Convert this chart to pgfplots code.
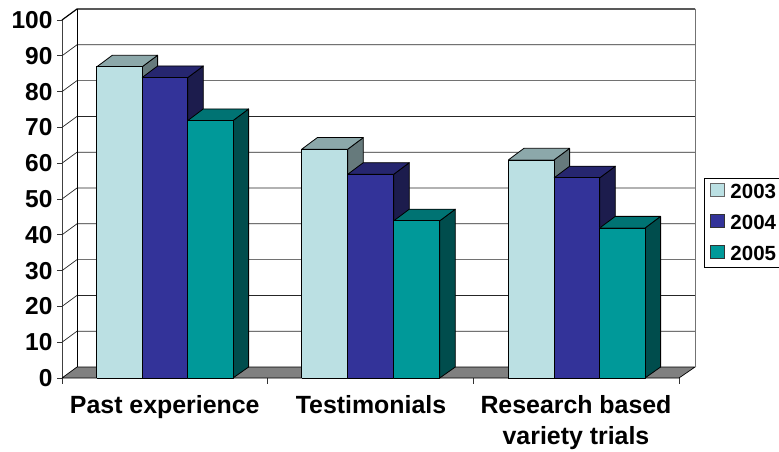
\documentclass[border=0pt]{standalone}
\usepackage{fontspec}
\setmainfont{Liberation Sans}
\usepackage{pgfplots}
\pgfplotsset{compat=1.18}
\definecolor{cA}{HTML}{BBE0E3}\definecolor{cAt}{HTML}{8CA8AA}\definecolor{cAs}{HTML}{667A7C}
\definecolor{cB}{HTML}{333399}\definecolor{cBt}{HTML}{26266F}\definecolor{cBs}{HTML}{1C1C4D}
\definecolor{cC}{HTML}{009999}\definecolor{cCt}{HTML}{007373}\definecolor{cCs}{HTML}{004D4D}
% #1 left x, #2 right x, #3 value, #4 series colour prefix
\newcommand{\dbar}[4]{%
  \pgfmathsetmacro{\xa}{#1}\pgfmathsetmacro{\xb}{#2}%
  \pgfmathsetmacro{\xc}{#2+15.6}\pgfmathsetmacro{\xd}{#1+15.6}%
  \pgfmathsetmacro{\yt}{#3+0.9}\pgfmathsetmacro{\yb}{#3+0.9+3.25}%
  \addplot[forget plot,draw=black,line width=0.8pt,fill=#4s,line join=round] coordinates {(\xb,0)(\xc,3.07)(\xc,\yb)(\xb,\yt)(\xb,0)};
  \addplot[forget plot,draw=black,line width=0.8pt,fill=#4t,line join=round] coordinates {(\xa,\yt)(\xd,\yb)(\xc,\yb)(\xb,\yt)(\xa,\yt)};
  \addplot[forget plot,draw=black,line width=0.8pt,fill=#4,line join=round] coordinates {(\xa,0)(\xa,\yt)(\xb,\yt)(\xb,0)(\xa,0)};
}
\newcommand{\gl}[1]{%
  \pgfmathsetmacro{\ya}{#1}\pgfmathsetmacro{\yb}{#1+3.07}%
  \addplot[forget plot,black!85,line width=0.7pt] coordinates {(62,\ya)(77,\yb)(695,\yb)};
}
\begin{document}
\begin{tikzpicture}[x=1pt,y=1pt]
\useasboundingbox (-62,-73) rectangle (717,378);
\begin{axis}[
  at={(0,0)},anchor=origin,
  scale only axis,width=633pt,height=369pt,
  xmin=62,xmax=695,ymin=0,ymax=103.07,
  clip=false,
  axis line style={draw=none},
  ytick={0,10,...,100},
  xtick={164.8,371,576},
  xticklabels={Past experience,Testimonials,{Research based\\variety trials}},
  extra x ticks={62,267.7,473,679},
  extra x tick labels={},
  extra x tick style={major tick length=5.5pt,tick style={black!80,line width=0.8pt}},
  tick align=outside,
  ytick pos=left,xtick pos=bottom,
  major tick length=0pt,
  y tick style={draw=none},
  /pgf/number format/assume math mode=true,
  yticklabel style={font=\fontsize{24.5}{24.5}\selectfont\bfseries,xshift=-6pt},
  xticklabel style={font=\fontsize{24.9}{31}\selectfont\bfseries,align=center,yshift=-14pt},
  legend image code/.code={\draw[#1,line width=0.8pt] (0pt,-6.5pt) rectangle (13.5pt,6.5pt);},
  legend style={at={(axis cs:704.3,55.8)},anchor=north west,
    font=\fontsize{20.5}{20.5}\selectfont\bfseries,draw=black,line width=0.7pt,
    inner xsep=5.5pt,inner ysep=4.5pt,row sep=12.5pt,
    nodes={inner sep=1pt,anchor=west,yshift=-2.5pt},
    /tikz/every odd column/.append style={column sep=5pt}},
  legend cell align=left,
]
% left front axis with ticks
\addplot[forget plot,black!75,line width=0.9pt] coordinates {(62,0)(62,100)};
\pgfplotsinvokeforeach{0,10,...,100}{
  \addplot[forget plot,black!80,line width=0.8pt] coordinates {(57.5,#1)(62,#1)};
}
% floor
\addplot[forget plot,draw=black,fill=gray,line width=0.7pt] coordinates {(62,0)(77,3.07)(695,3.07)(679,0)(62,0)};
% walls and grid
\gl{10}\gl{20}\gl{30}\gl{40}\gl{50}\gl{60}\gl{70}\gl{80}\gl{90}
\addplot[forget plot,black,line width=1.2pt] coordinates {(62,100)(77,103.07)(695,103.07)};
\addplot[forget plot,black,line width=0.9pt] coordinates {(77,3.07)(77,103.07)};
\addplot[forget plot,black!55,line width=1pt] coordinates {(695,3.07)(695,103.07)};
% bars
\dbar{96.7}{142}{86}{cA}\dbar{142}{187.7}{83}{cB}\dbar{187.7}{233}{71}{cC}
\dbar{301.7}{347.7}{63}{cA}\dbar{347.7}{393.7}{56}{cB}\dbar{393.7}{439.7}{43}{cC}
\dbar{508.3}{554}{60}{cA}\dbar{554}{599.7}{55}{cB}\dbar{599.7}{645}{41}{cC}
% legend
\addlegendimage{draw=black!60,fill=cA}\addlegendentry{2003}
\addlegendimage{draw=black!80,fill=cB}\addlegendentry{2004}
\addlegendimage{draw=black!80,fill=cC}\addlegendentry{2005}
\end{axis}
\end{tikzpicture}
\end{document}
